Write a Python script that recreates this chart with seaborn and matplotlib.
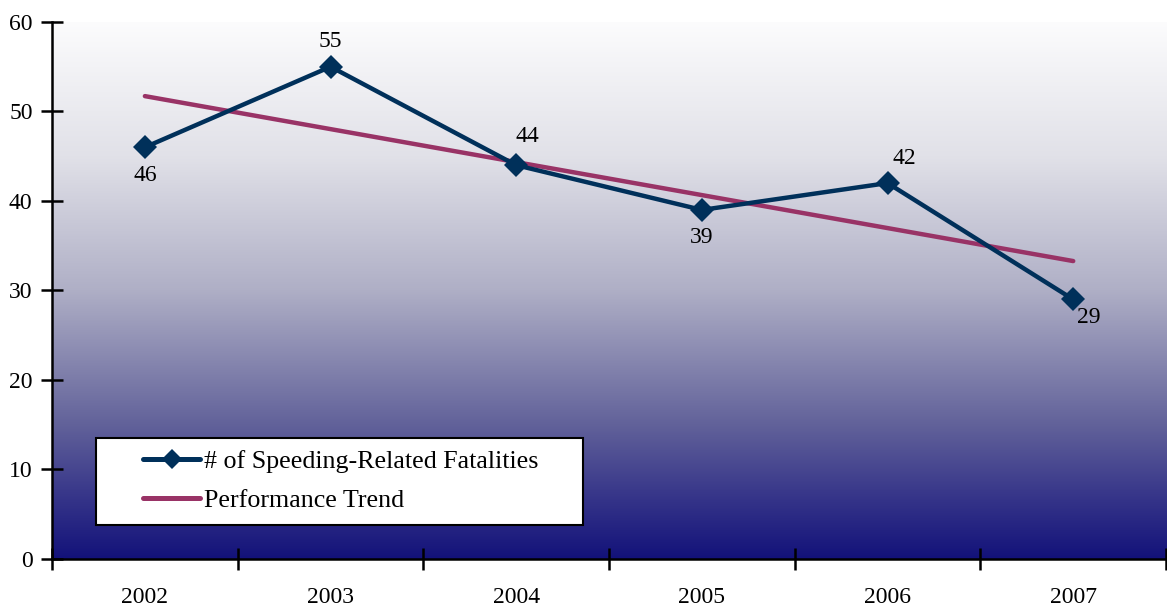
import numpy as np
import pandas as pd
import matplotlib
matplotlib.use("Agg")
import matplotlib.pyplot as plt
from matplotlib.colors import LinearSegmentedColormap
from matplotlib.lines import Line2D
from matplotlib.patches import Rectangle
import seaborn as sns

years = [2002, 2003, 2004, 2005, 2006, 2007]
fatalities = [46, 55, 44, 39, 42, 29]
y_ticks = [0, 10, 20, 30, 40, 50, 60]

sns.set_theme(style="white")
plt.rcParams["font.family"] = ["Liberation Serif", "DejaVu Serif"]

FS = 17
LEG_FS = 18.7

df = pd.DataFrame({"year": years, "fatalities": fatalities})

fig = plt.figure(figsize=(11.67, 6.10), dpi=100)
ax = fig.add_axes([0.0446, 0.0836, 0.9546, 0.8804])

# vertical gradient backdrop: navy at the bottom fading to white at the top
grad_cmap = LinearSegmentedColormap.from_list(
    "bg",
    [(0.0, "#13127a"), (0.12, "#38378a"), (0.25, "#62629a"),
     (0.5, "#afafc6"), (0.75, "#e1e1e8"), (1.0, "#fcfcfd")],
)
grad = np.linspace(0, 1, 256).reshape(-1, 1)
ax.imshow(grad, cmap=grad_cmap, origin="lower", aspect="auto",
          extent=[0, 1, 0, 1], transform=ax.transAxes, zorder=0)

navy = "#00305a"
plum = "#993366"

sns.regplot(data=df, x="year", y="fatalities", scatter=False, ci=None,
            ax=ax, color=plum, line_kws={"linewidth": 3.2, "zorder": 2,
                                         "solid_capstyle": "round"})
sns.lineplot(data=df, x="year", y="fatalities", ax=ax, color=navy,
             linewidth=3.2, marker="D", markersize=12, markeredgewidth=0,
             zorder=3, legend=False)

# value labels
offsets = {2002: (0, -20), 2003: (0, 18), 2004: (8, 21),
           2005: (0, -20), 2006: (12, 18), 2007: (11, -13)}
for yr, val in zip(years, fatalities):
    dx, dy = offsets[yr]
    ax.annotate(str(val), (yr, val), xytext=(dx, dy), textcoords="offset points",
                ha="center", va="center", fontsize=FS, color="black", zorder=4)

ax.set_xlim(years[0] - 0.5, years[-1] + 0.5)
ax.set_ylim(0, 60)
ax.set_yticks(y_ticks)
ax.set_yticklabels([str(t) for t in y_ticks])

# tick marks sit between categories; labels sit under each year
ax.set_xticks([y - 0.5 for y in years] + [years[-1] + 0.5])
ax.set_xticklabels([])
ax.set_xticks(years, minor=True)
ax.set_xticklabels([str(y) for y in years], minor=True)
ax.tick_params(axis="x", which="major", bottom=True, direction="inout",
               length=16, width=1.8, color="black")
ax.tick_params(axis="x", which="minor", bottom=False, length=0, pad=20,
               labelsize=FS, labelcolor="black")
ax.tick_params(axis="y", which="major", left=True, direction="inout",
               length=16, width=1.8, color="black", labelsize=FS, pad=6,
               labelcolor="black")
ax.set_xlabel("")
ax.set_ylabel("")

for side in ("top", "right"):
    ax.spines[side].set_visible(False)
for side in ("left", "bottom"):
    ax.spines[side].set_color("black")
    ax.spines[side].set_linewidth(1.8)
    ax.spines[side].set_zorder(5)

# legend panel: white box with a black border, entries inset from its left edge
ax.add_patch(Rectangle((0.0395, 0.0633), 0.437, 0.162, transform=ax.transAxes,
                       facecolor="white", edgecolor="black", linewidth=1.5,
                       zorder=6))
handles = [
    Line2D([], [], color=navy, linewidth=3.6, marker="D", markersize=10,
           markeredgewidth=0),
    Line2D([], [], color=plum, linewidth=3.6),
]
leg = ax.legend(handles, ["# of Speeding-Related Fatalities", "Performance Trend"],
                loc="center left", bbox_to_anchor=(0.0817, 0.145),
                fontsize=LEG_FS, frameon=False, borderpad=0,
                handlelength=2.2, handletextpad=0.16, labelspacing=0.6,
                borderaxespad=0)
leg.set_zorder(7)
for t in leg.get_texts():
    t.set_color("black")

fig.savefig("out.png", dpi=100)
